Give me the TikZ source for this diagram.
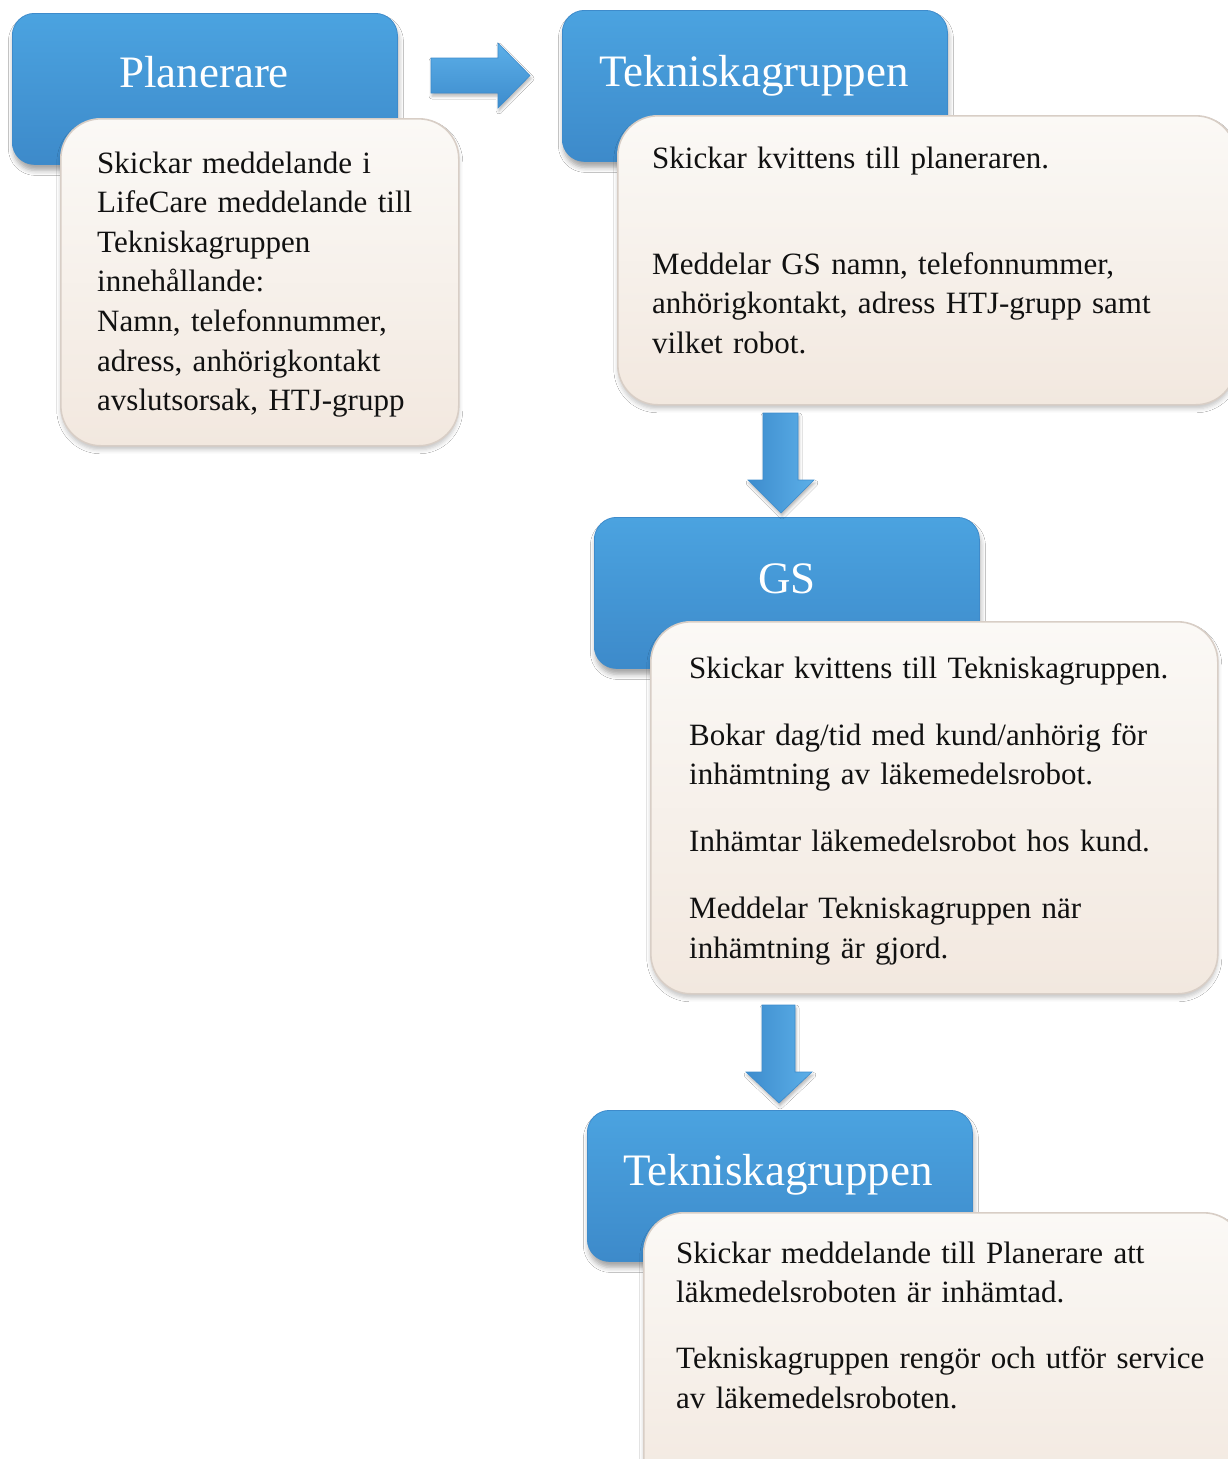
\documentclass[tikz,border=0pt]{standalone}
\usepackage{fontspec}
\setmainfont[WordSpace=0.88]{Liberation Serif}
\usetikzlibrary{shadows.blur}
\definecolor{bluetop}{HTML}{4BA3E0}
\definecolor{bluebot}{HTML}{3D8ACA}
\definecolor{bluedraw}{HTML}{3E8BCB}
\definecolor{creamtop}{HTML}{FBF9F6}
\definecolor{creambot}{HTML}{F2E8DF}
\definecolor{creamdraw}{HTML}{D8CEC6}
\definecolor{txt}{HTML}{111111}
\definecolor{arrdark}{HTML}{3D8CCD}
\definecolor{arrlight}{HTML}{5CAFE8}
\begin{document}
\begin{tikzpicture}[x=1pt,y=-1pt,
  bluebox/.style={rounded corners=22pt, top color=bluetop, bottom color=bluebot, draw=bluedraw, line width=0.8pt, minimum width=385pt, minimum height=151pt, anchor=north west, inner sep=0pt, blur shadow={shadow xshift=1pt, shadow yshift=-6pt, shadow blur radius=5pt, shadow opacity=35}},
  creambox/.style={rounded corners=40pt, top color=creamtop, bottom color=creambot, draw=creamdraw, line width=1.6pt, anchor=north west, inner sep=0pt, blur shadow={shadow xshift=0pt, shadow yshift=-4pt, shadow blur radius=4pt, shadow opacity=22}},
  title/.style={text=white, font=\fontsize{45}{50}\selectfont, anchor=base, inner sep=0pt},
  body/.style={text=txt, font=\fontsize{31}{39.6}\selectfont, anchor=base west, inner sep=0pt, align=left, text width=#1},
  blockarrow/.style={top color=arrlight, bottom color=arrdark, draw=arrdark, line width=0.6pt, blur shadow={shadow xshift=1pt, shadow yshift=-3pt, shadow blur radius=3pt, shadow opacity=30}},
  downarrow/.style={left color=arrdark, right color=arrlight, draw=arrdark, line width=0.6pt, blur shadow={shadow xshift=1pt, shadow yshift=-3pt, shadow blur radius=3pt, shadow opacity=30}}
]
\useasboundingbox (0,0) rectangle (1228,1459);
\fill[white] (0,0) rectangle (1228,1459);
\clip (0,0) rectangle (1228,1459);

% Box 1: Planerare
\node[bluebox] (b1) at (12,13) {};
\node[title] (t1) at (204,87) {Planerare};
\node[creambox, minimum width=398pt, minimum height=327pt] (c1) at (60,118) {};
\node[body=360pt] (x1) at (97,173) {Skickar meddelande i\\LifeCare meddelande till\\Tekniskagruppen\\innehållande:\\Namn, telefonnummer,\\adress, anhörigkontakt\\avslutsorsak, HTJ-grupp};

% Box 2: Tekniskagruppen
\node[bluebox] (b2) at (562,10) {};
\node[title] (t2) at (754,86) {Tekniskagruppen};
\node[creambox, minimum width=618pt, minimum height=289pt] (c2) at (617,115) {};
\node[body=560pt] (x2) at (652,168) {Skickar kvittens till planeraren.\\[66.4pt]Meddelar GS namn, telefonnummer,\\anhörigkontakt, adress HTJ-grupp samt\\vilket robot.};

% Box 3: GS
\node[bluebox] (b3) at (594,517) {};
\node[title] (t3) at (787,593) {GS};
\node[creambox, minimum width=567pt, minimum height=372pt] (c3) at (650,621) {};
\node[body=520pt] (x3) at (689,678) {Skickar kvittens till Tekniskagruppen.\\[27.4pt]Bokar dag/tid med kund/anhörig för\\inhämtning av läkemedelsrobot.\\[27.4pt]Inhämtar läkemedelsrobot hos kund.\\[27.4pt]Meddelar Tekniskagruppen när\\inhämtning är gjord.};

% Box 4: Tekniskagruppen
\node[bluebox] (b4) at (587,1110) {};
\node[title] (t4) at (778,1185) {Tekniskagruppen};
\node[creambox, minimum width=600pt, minimum height=290pt] (c4) at (643,1212) {};
\node[body=560pt] (x4) at (676,1263) {Skickar meddelande till Planerare att\\läkmedelsroboten är inhämtad.\\[26.4pt]Tekniskagruppen rengör och utför service\\av läkemedelsroboten.};

% Block arrows
\path[blockarrow] (431,58) -- (498,58) -- (498,43) -- (530,75.5) -- (498,108) -- (498,93) -- (431,93) -- cycle;
\path[downarrow] (763,413) -- (798,413) -- (798,480) -- (814,480) -- (781,513) -- (748,480) -- (763,480) -- cycle;
\path[downarrow] (762,1005) -- (795,1005) -- (795,1072) -- (812,1072) -- (779,1103) -- (746,1072) -- (762,1072) -- cycle;
\end{tikzpicture}
\end{document}
